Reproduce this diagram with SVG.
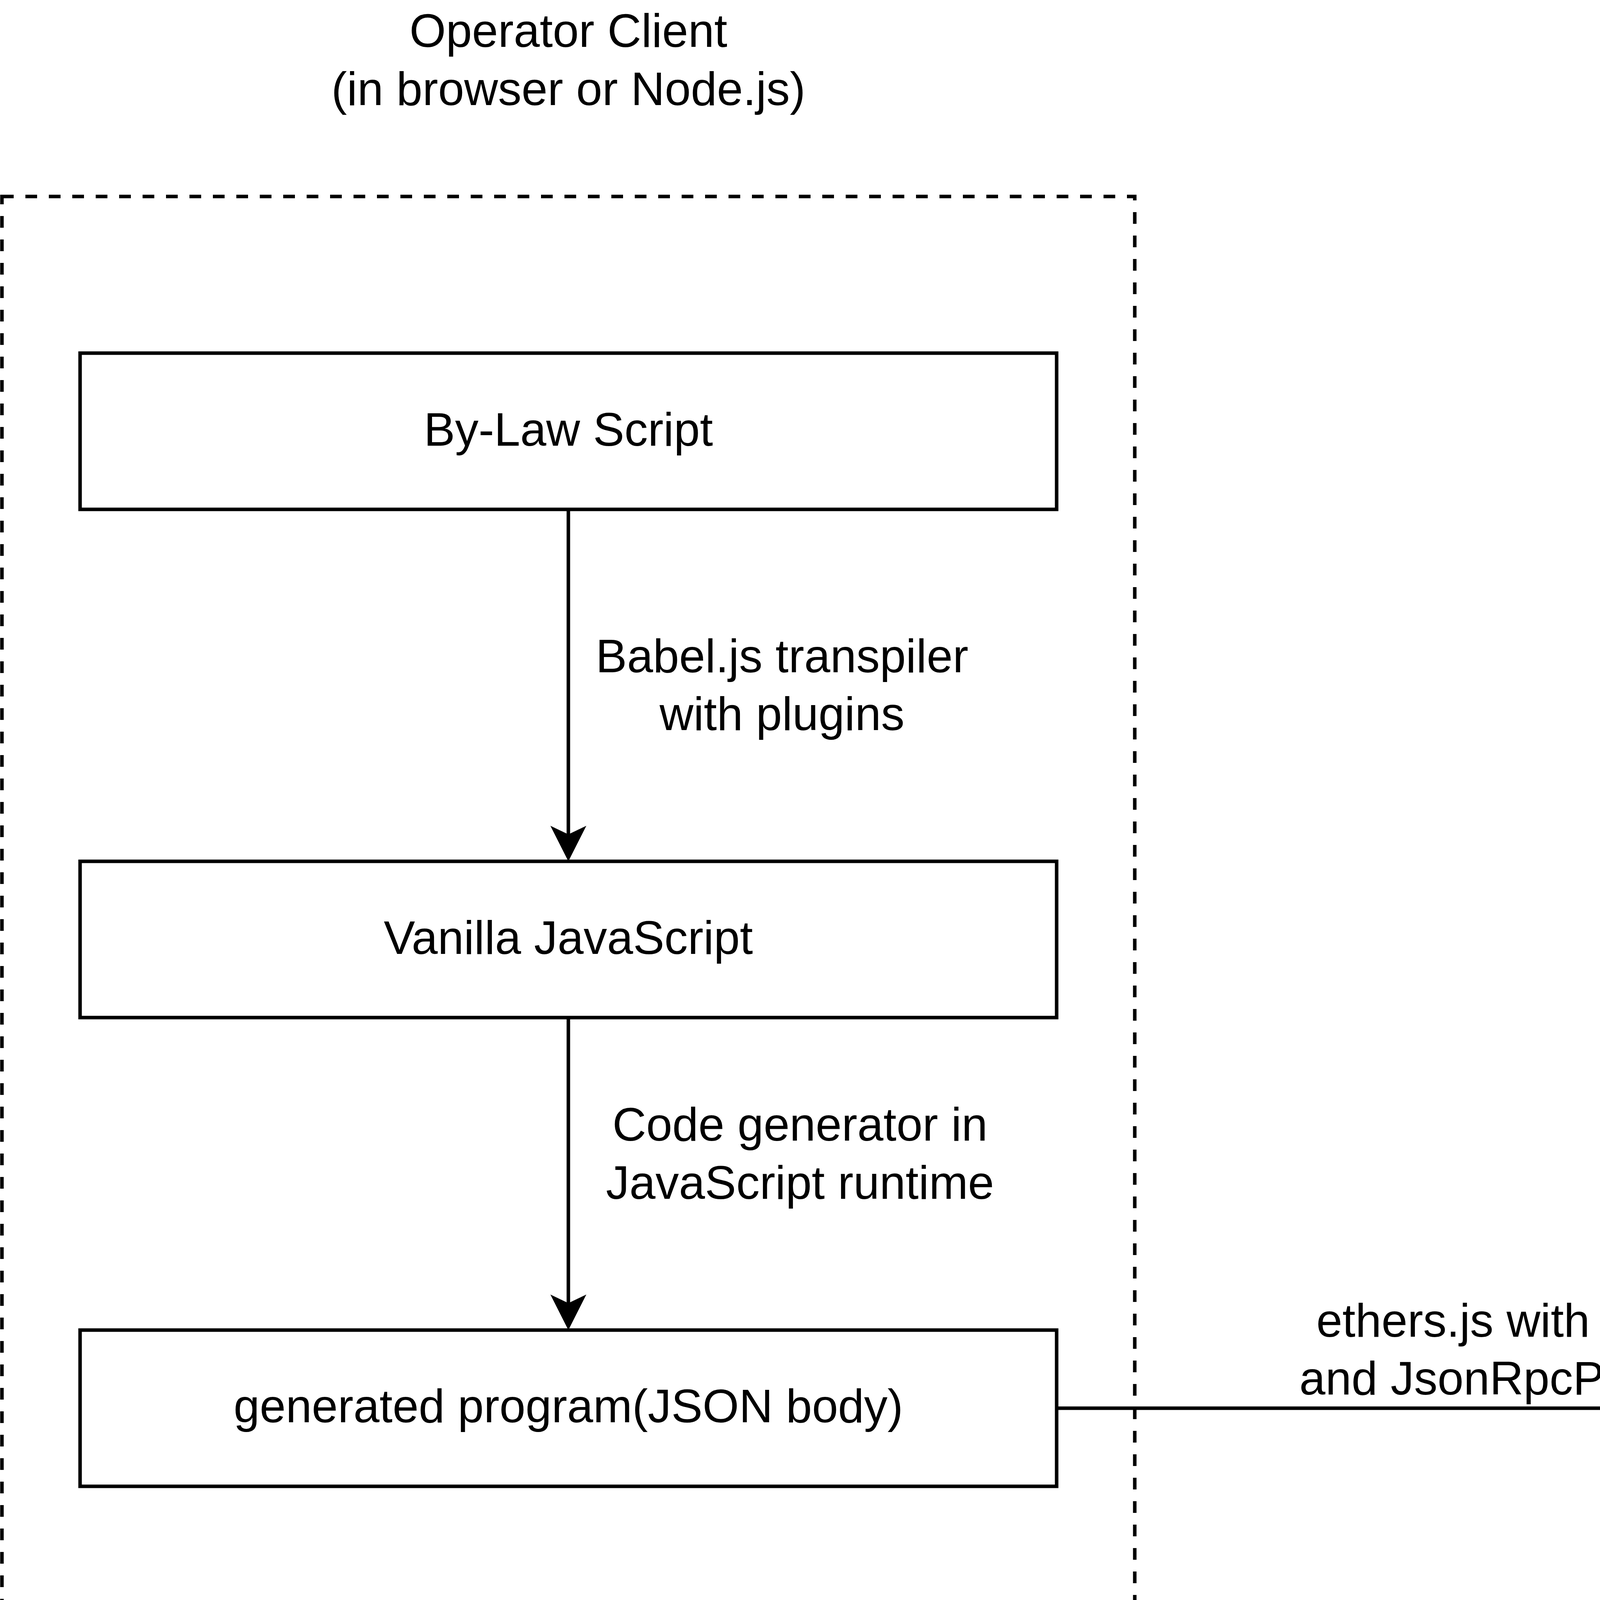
<svg xmlns="http://www.w3.org/2000/svg" width="6810" height="4310" viewBox="0 0 6810 4310">
<style>
text{font-family:"Liberation Sans",Arial,Helvetica,sans-serif;font-size:120px;fill:#000;text-anchor:middle}
.box{fill:#fff;stroke:#000;stroke-width:9}
.group{fill:none;stroke:#000;stroke-width:9;stroke-dasharray:30 30}
.edge{fill:none;stroke:#000;stroke-width:9}
</style>
<defs>
<marker id="arrow" markerUnits="userSpaceOnUse" viewBox="-90 -50 95 100" refX="0" refY="0" markerWidth="95" markerHeight="100" orient="auto">
<path d="M0,0 L-86,-46 L-64,0 L-86,46 Z" fill="#000" stroke="#000" stroke-width="4" stroke-linejoin="miter"/>
</marker>
</defs>
<rect width="6810" height="4310" fill="#fff"/>
<g id="operator-client">
<rect class="group" x="5" y="503" width="2900" height="3800"/>
<text x="1455" y="120">Operator Client</text>
<text x="1455" y="269">(in browser or Node.js)</text>
</g>
<g id="evm-chain">
<rect class="group" x="4805" y="2955" width="2000" height="1300"/>
<text x="5805" y="2590">EVM-compatible blockchain</text>
</g>
<g id="bylaw-script">
<rect class="box" x="205" y="904" width="2500" height="400"/>
<text x="1455" y="1141">By-Law Script</text>
</g>
<g id="vanilla-js">
<rect class="box" x="205" y="2205" width="2500" height="400"/>
<text x="1455" y="2442">Vanilla JavaScript</text>
</g>
<g id="generated-program">
<rect class="box" x="205" y="3405" width="2500" height="400"/>
<text x="1455" y="3641">generated program(JSON body)</text>
</g>
<g id="darc">
<rect class="box" x="5205" y="3305" width="1200" height="600"/>
<text x="5800" y="3641">your on-chain DARC</text>
</g>
<g id="connectors">
<line class="edge" x1="1455" y1="1304" x2="1455" y2="2136"/>
<path d="M1455,2205 L1409,2114 L1455,2136 L1501,2114 Z" fill="#000"/>
<text x="2002" y="1721">Babel.js transpiler</text>
<text x="2002" y="1869">with plugins</text>
<line class="edge" x1="1455" y1="2605" x2="1455" y2="3336"/>
<path d="M1455,3405 L1409,3314 L1455,3336 L1501,3314 Z" fill="#000"/>
<text x="2048" y="2920">Code generator in</text>
<text x="2048" y="3069">JavaScript runtime</text>
<line class="edge" x1="2705" y1="3605" x2="5136" y2="3605"/>
<path d="M5203,3605 L5114,3559 L5136,3605 L5114,3651 Z" fill="#000"/>
<text x="3900" y="3422">ethers.js with signer</text>
<text x="3900" y="3570">and JsonRpcProvider</text>
</g>
</svg>
